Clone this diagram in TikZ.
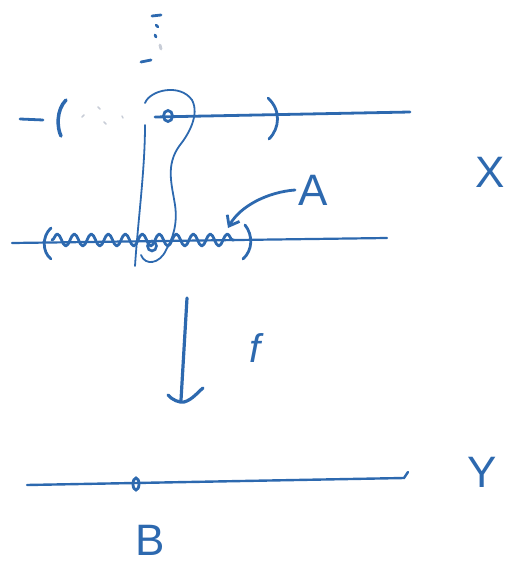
\documentclass[tikz,border=0pt]{standalone}
\usepackage{fontspec}
\setmainfont{Liberation Sans}
\usetikzlibrary{decorations.pathmorphing,arrows.meta,shapes.geometric}
\definecolor{ink}{RGB}{45,105,175}
\definecolor{faint}{RGB}{200,205,215}
\begin{document}
\begin{tikzpicture}[x=1pt,y=-1pt,
  pen/.style={draw=ink,line width=2.8pt,line cap=round,line join=round},
  thinpen/.style={draw=ink,line width=1.8pt,line cap=round},
  lab/.style={text=ink,font=\fontsize{44}{44}\selectfont,inner sep=0pt}]
\useasboundingbox (0,0) rectangle (520,564);
% top dotted vertical marks
\draw[pen] (152,16) -- (161,15);
\draw[pen] (156,25) -- (158,27);
\draw[pen] (155,35) -- (156,37);
\draw[pen,faint] (160,45) -- (161,49);
\draw[pen] (141,62) -- (151,60);
% top line X
\coordinate (t0) at (155,117);
\coordinate (t1) at (410,112);
\draw[pen] (t0) -- (t1);
\draw[pen] (20,119) -- (43,120);
\draw[pen,line width=3.5pt] (66,100) .. controls (56,110) and (57,128) .. (61,136);
\draw[pen,faint,line width=1.5pt] (82,117) -- (84,115) (98,107) -- (100,109) (104,122) -- (106,124) (122,116) -- (123,118);
\draw[pen] (268,98) .. controls (281,110) and (280,128) .. (269,139);
\node[draw=ink,line width=2.8pt,ellipse,minimum width=9pt,minimum height=11pt,inner sep=0pt] (p) at (168,116) {};
% loop
\draw[thinpen] (145,103) .. controls (150,90) and (180,83) .. (192,100)
  .. controls (200,115) and (188,135) .. (180,145)
  .. controls (165,165) and (172,185) .. (175,205)
  .. controls (178,225) and (172,240) .. (166,250)
  .. controls (160,264) and (145,266) .. (141,255);
\draw[thinpen] (145,125) .. controls (145,170) and (138,220) .. (135,266);
\node[draw=ink,line width=2.6pt,ellipse,minimum width=9pt,minimum height=10pt,inner sep=0pt] (q) at (152,246) {};
% second line
\coordinate (m0) at (12,243);
\coordinate (m1) at (387,238);
\draw[thinpen,line width=2.2pt] (m0) -- (m1);
\draw[pen,decorate,decoration={snake,segment length=17pt,amplitude=6pt}] (52,240) -- (234,240);
\draw[pen] (51,228) .. controls (42,236) and (42,252) .. (51,259);
\draw[pen] (245,225) .. controls (253,235) and (253,250) .. (243,259);
% label A and arrow
\node[lab] (A) at (313,190) {A};
\draw[pen,-{Straight Barb[length=9pt,width=14pt]}] (295,190) .. controls (268,192) and (240,206) .. (228,228);
% X
\node[lab] (X) at (490,172) {X};
% map f
\coordinate (f0) at (187,298);
\coordinate (f1) at (181,400);
\draw[pen,line width=3.2pt] (f0) -- (f1);
\draw[pen,line width=3.2pt] (168,395) .. controls (172,400) and (180,403) .. (184,402) .. controls (192,400) and (198,392) .. (203,388);
\node[lab,font=\fontsize{40}{40}\itshape] (f) at (255,348) {f};
% bottom line Y
\coordinate (b0) at (27,485);
\coordinate (b1) at (404,478);
\draw[thinpen,line width=2.4pt] (b0) -- (b1) -- (408,472);
\node[draw=ink,line width=2.8pt,ellipse,minimum width=6pt,minimum height=12pt,inner sep=0pt] (B0) at (136,484) {};
\node[lab] (B) at (150,540) {B};
\node[lab] (Y) at (482,472) {Y};
\end{tikzpicture}
\end{document}
